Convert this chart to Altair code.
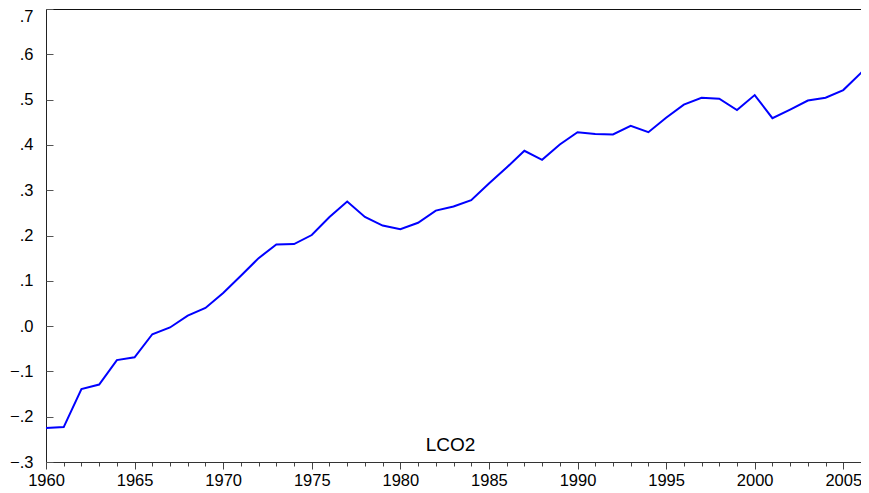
import altair as alt
import pandas as pd

years = list(range(1960, 2008))
lco2 = [-0.225, -0.223, -0.139, -0.129, -0.075, -0.069, -0.018, -0.003, 0.023, 0.040,
        0.073, 0.111, 0.150, 0.180, 0.181, 0.201, 0.241, 0.275, 0.241, 0.222,
        0.214, 0.228, 0.255, 0.264, 0.278, 0.315, 0.350, 0.387, 0.367, 0.401,
        0.428, 0.424, 0.423, 0.442, 0.428, 0.460, 0.489, 0.504, 0.502, 0.477,
        0.510, 0.459, 0.478, 0.498, 0.504, 0.521, 0.559, 0.598]
y_ticks = [-0.3, -0.2, -0.1, 0.0, 0.1, 0.2, 0.3, 0.4, 0.5, 0.6, 0.7]
x_ticks = list(range(1960, 2006))

df = pd.DataFrame({"year": years, "LCO2": lco2})

FONT = "Liberation Sans"

chart = alt.Chart(df).mark_line(color="#0000ff", strokeWidth=2, clip=True).encode(
    x=alt.X("year:Q",
            scale=alt.Scale(domain=[1960, 2006], nice=False, zero=False),
            axis=alt.Axis(values=x_ticks, title=None, domain=True, domainColor="#333",
                          grid=True,
                          gridColor={"condition": {"test": "datum.value < 1960.5", "value": "#222"},
                                     "value": "transparent"},
                          labelExpr="datum.value % 5 === 0 ? format(datum.value, 'd') : ''",
                          labelOverlap=False, labelFlush=False,
                          tickSize={"condition": {"test": "datum.value % 5 === 0", "value": 7}, "value": 4},
                          tickColor="#444", labelPadding=3,
                          labelFont=FONT, labelFontSize=16.5, labelColor="#000")),
    y=alt.Y("LCO2:Q",
            scale=alt.Scale(domain=[-0.3, 0.7], nice=False, zero=False),
            axis=alt.Axis(values=y_ticks, title=None, domain=False,
                          grid=True, gridColor="#111",
                          gridOpacity={"condition": {"test": "datum.value > 0.65", "value": 1}, "value": 0},
                          offset=-7, tickSize=7, tickColor="#555", labelPadding=13,
                          labelExpr="replace(format(datum.value, '.1f'), '0.', '.')",
                          labelOffset={"condition": {"test": "datum.value > 0.65", "value": 7}, "value": 0},
                          labelFont=FONT, labelFontSize=16.5, labelColor="#000",
                          labelOverlap=False)),
).properties(
    width=815, height=453,
    padding={"left": 38, "top": 1, "right": 0, "bottom": 30},
    autosize=alt.AutoSizeParams(type="none"),
    title=alt.TitleParams("LCO2", orient="bottom", anchor="middle", font=FONT,
                          fontSize=19, fontWeight="normal", color="#000", dy=-57, dx=-3),
).configure_view(stroke=None)

chart.save("out.html", embed_options={"renderer": "svg", "actions": False})
